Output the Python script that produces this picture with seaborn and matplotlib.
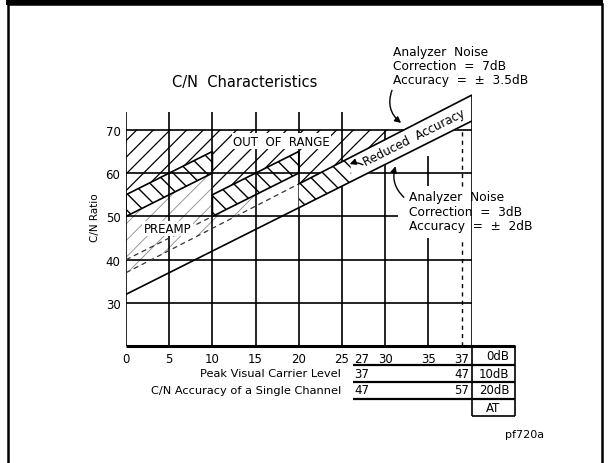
import matplotlib
matplotlib.use("Agg")
import matplotlib.pyplot as plt
import seaborn as sns
from matplotlib.patches import Rectangle

# ---------------- data ----------------
x_ticks = [0, 5, 10, 15, 20, 25, 27.3, 30, 35, 38.9]
x_tick_labels = ["0", "5", "10", "15", "20", "25", "27", "30", "35", "37"]
y_ticks = [30, 40, 50, 60, 70]

floor_x = [0, 40]            # solid C/N floor line
floor_y = [32, 72]
upper_x = [0, 20, 40]        # analyzer-noise upper line (dashed, then solid)
upper_y = [37, 57.5, 78]

bandA_x, bandA_lo, bandA_hi = [0, 10], [50, 60], [55, 65]
bandB_x, bandB_lo, bandB_hi = [10, 20], [50, 60], [55, 65]
bandB_ext_x, bandB_ext_y = [0, 10], [40, 50]
bandC_x, bandC_lo, bandC_hi = [20, 26], [52, 58], [57.5, 63.7]
reduced_x, reduced_lo, reduced_hi = [26, 40], [58, 72], [63.7, 78]
oor_x = [0, 10, 10, 20, 20, 32.2]
oor_lo = [55, 65, 55, 65, 57.5, 70]
oor_top = 70
preamp_x = [0, 10, 10, 15]
preamp_lo = [37, 47.3, 47.3, 52.4]
preamp_hi = [50, 60, 50, 55]

row_labels = ["Peak Visual Carrier Level", "C/N Accuracy of a Single Channel"]
row_start = ["37", "47"]
row_end = ["47", "57"]
atten_labels = ["0dB", "10dB", "20dB", "AT"]

# ---------------- figure ----------------
sns.set_theme(style="white")
plt.rcParams["font.family"] = ["DejaVu Sans"]
for k in ["text.color", "axes.labelcolor", "xtick.color", "ytick.color"]:
    plt.rcParams[k] = "black"
fig = plt.figure(figsize=(6.09, 4.64), dpi=100)
ax = fig.add_axes([126 / 609, (464 - 347.3) / 464, 345.6 / 609, 259.8 / 464])
ax.set_xlim(0, 40)
ax.set_ylim(20, 80)
for s in ax.spines.values():
    s.set_visible(False)

K = "black"
LW = 1.2
DASH = (0, (4, 3))

# grid
ax.hlines([70, 60, 40, 30], 0, 40, color=K, lw=LW, zorder=2)
ax.hlines(50, 0, 31.5, color=K, lw=LW, zorder=2)
ax.vlines([0, 5, 10, 15, 20, 25], 20, 74, color=K, lw=LW, zorder=2)
ax.vlines(30, 20, 70, color=K, lw=LW, zorder=2)
ax.vlines(35, 20, 45, color=K, lw=LW, zorder=2)
ax.vlines(35, 57, 64, color=K, lw=LW, zorder=2)
ax.vlines(38.9, 20, 45, color=K, lw=1.0, linestyles=(0, (3, 3)), zorder=2)
ax.vlines(38.9, 57, 70, color=K, lw=1.0, linestyles=(0, (3, 3)), zorder=2)
ax.vlines(40, 20, 78, color=K, lw=LW, zorder=2)

# out of range region
plt.rcParams["hatch.linewidth"] = 0.9
ax.fill_between(oor_x, oor_lo, oor_top, facecolor="none", edgecolor=K,
                hatch="//", linewidth=0, zorder=1)

# preamp region
plt.rcParams["hatch.linewidth"] = 0.6
ax.fill_between(preamp_x, preamp_lo, preamp_hi, facecolor="none",
                edgecolor="#8a8a8a", hatch="//", linewidth=0, zorder=1)

# cross-hatched bands
plt.rcParams["hatch.linewidth"] = 1.0
for bx, lo, hi in [(bandA_x, bandA_lo, bandA_hi), (bandB_x, bandB_lo, bandB_hi)]:
    ax.fill_between(bx, lo, hi, facecolor="none", edgecolor=K, hatch="\\\\",
                    linewidth=LW, zorder=3)
ax.fill_between(bandC_x, bandC_lo, bandC_hi, facecolor="white", edgecolor=K,
                hatch="\\\\", linewidth=0, zorder=3)
ax.fill_between(reduced_x, reduced_lo, reduced_hi, facecolor="white",
                edgecolor=K, linewidth=0, zorder=3)

# lines
sns.lineplot(x=floor_x, y=floor_y, ax=ax, color=K, lw=LW, zorder=4)
sns.lineplot(x=upper_x[:2], y=upper_y[:2], ax=ax, color="#333333", lw=0.9,
             linestyle=DASH, zorder=4)
sns.lineplot(x=upper_x[1:], y=upper_y[1:], ax=ax, color=K, lw=LW, zorder=4)
sns.lineplot(x=bandB_ext_x, y=bandB_ext_y, ax=ax, color="#333333", lw=0.9,
             linestyle=DASH, zorder=4)
ax.vlines(40, 72, 78, color=K, lw=LW, zorder=4)

# bottom axis + table
ax.hlines(20, 0, 45, color=K, lw=2.2, zorder=5, clip_on=False)
ax.hlines([15.7, 11.7, 7.8], 26.3, 45, color=K, lw=1.6, clip_on=False)
ax.hlines(3.9, 40, 45, color=K, lw=1.2, clip_on=False)
ax.vlines([40, 45], 3.9, 20, color=K, lw=1.2, clip_on=False)

# ticks
ax.set_xticks(x_ticks)
ax.set_xticklabels(x_tick_labels, fontsize=8.5)
ax.set_xticks([27.3], minor=True)
ax.set_yticks(y_ticks)
ax.set_yticklabels([str(v) for v in y_ticks], fontsize=8.5)
ax.tick_params(axis="both", which="major", length=0, pad=4, colors=K)
ax.tick_params(axis="x", which="minor", direction="in", length=10,
               width=1.0, color=K, bottom=True)
ax.set_ylabel("C/N Ratio", fontsize=7.5, labelpad=4)

# table texts
ty = [17.8, 13.8, 10.0]
for lab, y in zip(atten_labels[:3], ty):
    ax.text(44.4, y, lab, ha="right", va="center", fontsize=8.5, clip_on=False)
ax.text(42.5, 5.8, atten_labels[3], ha="center", va="center", fontsize=8.5)
for lab, a, b, y in zip(row_labels, row_start, row_end, ty[1:]):
    ax.text(24.9, y, lab, ha="right", va="center", fontsize=8.2)
    ax.text(26.4, y, a, ha="left", va="center", fontsize=8.5)
    ax.text(39.7, y, b, ha="right", va="center", fontsize=8.5)

# labels in plot
wb = dict(facecolor="white", edgecolor="none", pad=1.0)
ax.text(18.0, 67.4, "OUT  OF  RANGE", ha="center", va="center", fontsize=8.5,
        bbox=wb, zorder=6)
ax.text(4.8, 47.2, "PREAMP", ha="center", va="center", fontsize=8.5,
        bbox=wb, zorder=6)
ax.text(33.4, 68.3, "Reduced  Accuracy", ha="center", va="center",
        fontsize=8.5, rotation=26.7, rotation_mode="anchor", zorder=6)

# title and annotations
fig.text(245 / 609, 1 - 82 / 464, "C/N  Characteristics", ha="center",
         va="center", fontsize=10.5)
for i, s in enumerate(["Analyzer  Noise", "Correction  =  7dB",
                       "Accuracy  =  ±  3.5dB"]):
    ax.text(30.9, 88.0 - 3.2 * i, s, ha="left", va="center", fontsize=8.8,
            clip_on=False)
for i, s in enumerate(["Analyzer  Noise", "Correction  =  3dB",
                       "Accuracy  =  ±  2dB"]):
    ax.text(32.8, 54.5 - 3.3 * i, s, ha="left", va="center", fontsize=8.8,
            zorder=6)

arr = dict(arrowstyle="-|>", color=K, lw=1.0, mutation_scale=9)
ax.annotate("", xy=(32.1, 71.2), xytext=(30.9, 79.7),
            arrowprops=dict(connectionstyle="arc3,rad=0.4", **arr),
            annotation_clip=False, zorder=7)
ax.annotate("", xy=(31.3, 62.2), xytext=(32.4, 54.0),
            arrowprops=dict(connectionstyle="arc3,rad=-0.35", **arr),
            annotation_clip=False, zorder=7)
ax.annotate("", xy=(25.6, 61.8), xytext=(27.7, 61.6),
            arrowprops=dict(connectionstyle="arc3,rad=0.3", **arr),
            annotation_clip=False, zorder=7)

fig.text(525 / 609, 1 - 435 / 464, "pf720a", ha="center", va="center",
         fontsize=8)

# page frame
fig.add_artist(Rectangle((6 / 609, 1 - 6 / 464), 597 / 609, 6 / 464,
                         transform=fig.transFigure, facecolor=K,
                         edgecolor="none"))
fig.add_artist(Rectangle((7.5 / 609, -0.05), 594 / 609, 1.05 - 5 / 464,
                         transform=fig.transFigure, facecolor="none",
                         edgecolor=K, lw=1.8))

fig.savefig("out.png", dpi=100)
